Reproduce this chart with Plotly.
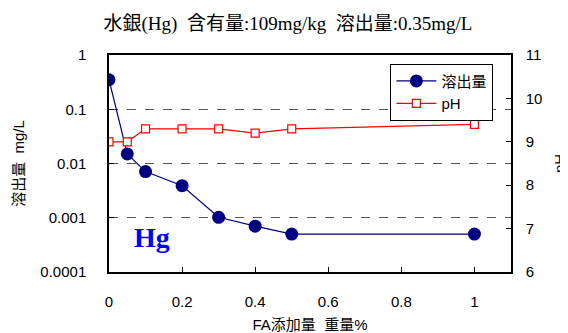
import plotly.graph_objects as go
import math

fa = [0, 0.05, 0.1, 0.2, 0.3, 0.4, 0.5, 1.0]
leach = [0.35, 0.015, 0.0071, 0.0039, 0.00102, 0.0007, 0.0005, 0.0005]
ph = [9.0, 9.0, 9.3, 9.3, 9.3, 9.2, 9.3, 9.4]

x_ticks = [0, 0.2, 0.4, 0.6, 0.8, 1]
x_ticktext = ["0", "0.2", "0.4", "0.6", "0.8", "1"]
y_ticks = [0.0001, 0.001, 0.01, 0.1, 1]
y_ticktext = ["0.0001", "0.001", "0.01", "0.1", "1"]

sans = "Liberation Sans, Noto Sans CJK JP, sans-serif"
serif = "Liberation Serif, Noto Sans CJK JP, serif"

fig = go.Figure()
fig.add_trace(go.Scatter(
    x=fa, y=leach, name="溶出量", mode="lines+markers",
    line=dict(color="#000080", width=1.2),
    marker=dict(symbol="circle", size=13, color="#000080"),
))
fig.add_trace(go.Scatter(
    x=fa, y=ph, name="pH", mode="lines+markers", yaxis="y2",
    line=dict(color="#FF0000", width=1.2),
    marker=dict(symbol="square", size=8, color="white", line=dict(color="#FF0000", width=1.2)),
))

fig.update_layout(
    width=560, height=325,
    margin=dict(l=101, r=57, t=47, b=61, autoexpand=False),
    paper_bgcolor="white", plot_bgcolor="white",
    font=dict(family=sans, size=15, color="black"),
    title=dict(text="水銀(Hg)  含有量:109mg/kg  溶出量:0.35mg/L",
               x=0.5, xanchor="center", y=1 - 15 / 325, yref="container", yanchor="middle",
               font=dict(family=serif, size=19, color="black")),
    xaxis=dict(range=[0, 1.1], tickvals=x_ticks, ticktext=x_ticktext,
               ticks="inside", ticklen=5, tickcolor="black", automargin=False,
               showline=True, linecolor="black", linewidth=1.5, mirror=True,
               showgrid=False, zeroline=False, ticklabelstandoff=15,
               title=dict(text="FA添加量  重量%", standoff=17, font=dict(size=15))),
    yaxis=dict(type="log", range=[-4, 0], tickvals=y_ticks, ticktext=y_ticktext,
               ticks="inside", ticklen=5, tickcolor="black", automargin=False,
               showline=True, linecolor="black", linewidth=1.5, mirror=True,
               showgrid=True, gridcolor="#555555", griddash="dash", gridwidth=1,
               zeroline=False, ticklabelstandoff=18,
               title=dict(text="溶出量  mg/L", standoff=12, font=dict(size=15))),
    yaxis2=dict(overlaying="y", side="right", range=[6, 11], dtick=1,
                ticks="inside", ticklen=5, tickcolor="black", automargin=False,
                showline=True, linecolor="black", linewidth=1.5,
                showgrid=False, zeroline=False, ticklabelstandoff=10,
                title=dict(text="pH", standoff=16, font=dict(size=15))),
    legend=dict(x=0.70, y=0.96, xanchor="left", yanchor="top",
                bgcolor="white", bordercolor="black", borderwidth=1,
                font=dict(size=15), itemwidth=40, tracegroupgap=0),
    showlegend=True,
)

fig.add_annotation(x=0.118, y=math.log10(0.00044), xref="x", yref="y", text="<b>Hg</b>",
                   showarrow=False, font=dict(family=serif, size=28, color="#0000FF"))

fig.write_html("out.html")
